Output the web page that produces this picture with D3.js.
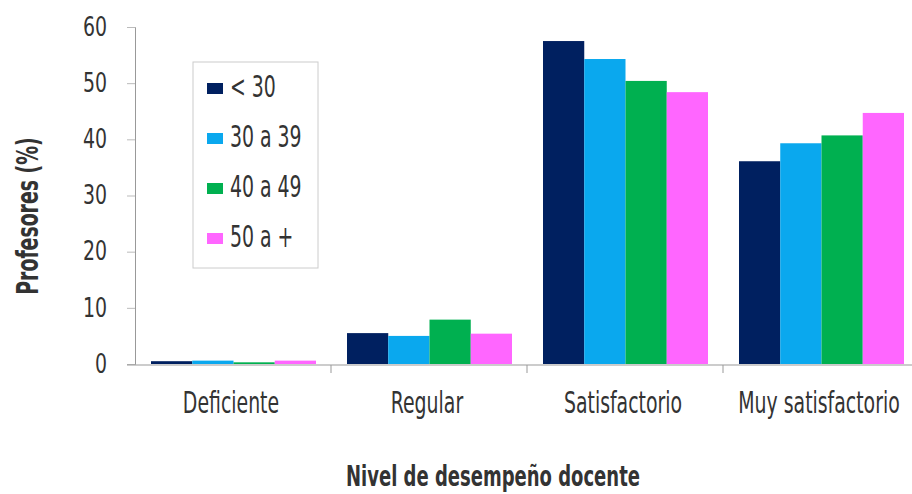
<!DOCTYPE html>
<html>
<head>
<meta charset="utf-8">
<script src="https://cdn.jsdelivr.net/npm/d3@7"></script>
<style>
  body { margin: 0; background: #fff; }
  text { font-family: "DejaVu Sans Condensed", "DejaVu Sans", sans-serif; fill: #333; }
</style>
</head>
<body>
<div id="chart"></div>
<script>
// Data
let categories = ["Deficiente", "Regular", "Satisfactorio", "Muy satisfactorio"];
let series = ["< 30", "30 a 39", "40 a 49", "50 a +"];
let menos30 = [0.5, 5.5, 57.5, 36.1];
let de30a39 = [0.6, 5.0, 54.3, 39.3];
let de40a49 = [0.3, 7.9, 50.4, 40.7];
let de50mas = [0.6, 5.4, 48.4, 44.7];
let yTicks = [0, 10, 20, 30, 40, 50, 60];

let colors = ["#002060", "#0aa8ee", "#00b050", "#ff66ff"];

// chart size
let width = 912;
let height = 494;
let plotLeft = 135, plotRight = 919, plotTop = 27, plotBottom = 364;

// the original font is tall and narrow, so text gets stretched vertically
let stretch = 1.4;

let values = [menos30, de30a39, de40a49, de50mas];

let svg = d3.select("#chart")
    .append("svg")
    .attr("width", width)
    .attr("height", height);

let x = d3.scaleBand()
    .domain(categories)
    .range([plotLeft, plotRight])
    .paddingInner(0)
    .paddingOuter(0);

let x1 = d3.scaleBand()
    .domain(series)
    .range([16, x.bandwidth() - 15]);

let y = d3.scaleLinear()
    .domain([0, 60])
    .range([plotBottom, plotTop]);

// y axis
let yAxis = svg.append("g")
    .attr("transform", `translate(${plotLeft},0)`)
    .call(d3.axisLeft(y).tickValues(yTicks).tickSize(8).tickPadding(20));
yAxis.select(".domain").attr("stroke", "#999");
yAxis.selectAll(".tick line").attr("stroke", "#bbb");
yAxis.selectAll(".tick text")
    .attr("font-size", 21)
    .attr("font-family", "DejaVu Sans Condensed, DejaVu Sans, sans-serif")
    .attr("fill", "#333")
    .attr("dy", "0.3em")
    .attr("transform", "scale(1,1.3)");

// bars
let groups = svg.append("g").selectAll("g")
    .data(series)
    .enter().append("g")
    .attr("fill", (d, i) => colors[i]);

groups.selectAll("rect")
    .data((s, i) => values[i].map((v, j) => ({ cat: categories[j], s: s, v: v })))
    .enter().append("rect")
    .attr("x", d => x(d.cat) + x1(d.s))
    .attr("width", x1.bandwidth())
    .attr("y", d => y(d.v))
    .attr("height", d => y(0) - y(d.v));

// x axis
let xAxis = svg.append("g")
    .attr("transform", `translate(0,${plotBottom + 1})`);
xAxis.append("line")
    .attr("x1", plotLeft - 8).attr("x2", width)
    .attr("stroke", "#999");
xAxis.selectAll(".sep")
    .data(categories.slice(1))
    .enter().append("line")
    .attr("class", "sep")
    .attr("x1", d => x(d)).attr("x2", d => x(d))
    .attr("y1", 0).attr("y2", 8)
    .attr("stroke", "#999");
xAxis.selectAll(".lbl")
    .data(categories)
    .enter().append("text")
    .attr("class", "lbl")
    .attr("x", d => x(d) + x.bandwidth() / 2 - 2)
    .attr("y", 48 / stretch)
    .attr("transform", `scale(1,${stretch})`)
    .attr("text-anchor", "middle")
    .attr("font-size", 21)
    .text(d => d);

// axis titles
svg.append("text")
    .attr("x", 493)
    .attr("y", 486 / stretch)
    .attr("transform", `scale(1,${stretch})`)
    .attr("text-anchor", "middle")
    .attr("font-size", 20)
    .attr("font-weight", "bold")
    .text("Nivel de desempeño docente");

svg.append("text")
    .attr("transform", `translate(38,216) rotate(-90) scale(1,${stretch})`)
    .attr("text-anchor", "middle")
    .attr("font-size", 21)
    .attr("font-weight", "bold")
    .text("Profesores (%)");

// legend
let legend = svg.append("g")
    .attr("transform", "translate(193,62)");
legend.append("rect")
    .attr("width", 125)
    .attr("height", 206)
    .attr("fill", "#fff")
    .attr("stroke", "#ccc");
let item = legend.selectAll(".item")
    .data(series)
    .enter().append("g")
    .attr("class", "item")
    .attr("transform", (d, i) => `translate(14,${i * 50})`);
item.append("rect")
    .attr("x", 0).attr("y", 21)
    .attr("width", 16).attr("height", 11)
    .attr("fill", (d, i) => colors[i]);
item.append("text")
    .attr("x", 23)
    .attr("y", 35 / stretch)
    .attr("transform", `scale(1,${stretch})`)
    .attr("font-size", 21)
    .text(d => d);
</script>
</body>
</html>
